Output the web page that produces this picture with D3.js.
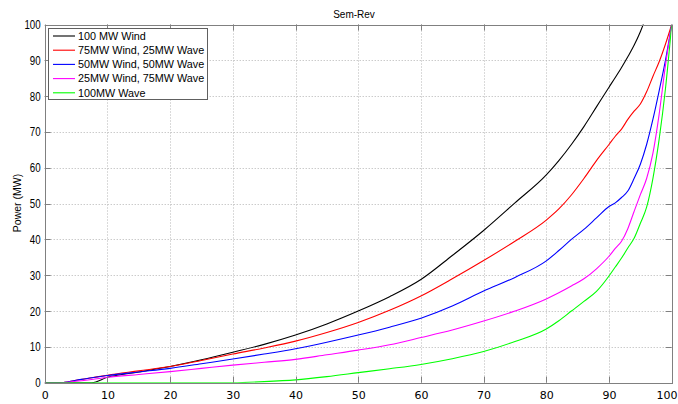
<!DOCTYPE html>
<html>
<head>
<meta charset="utf-8">
<script src="https://cdn.jsdelivr.net/npm/d3@7"></script>
<style>
  html, body { margin: 0; padding: 0; background: #fff; }
  svg { display: block; }
</style>
</head>
<body>
<script>
// Data //////////////////////////////////////////////////////////////////////

const percent = [0, 2.5, 5, 7.5, 10, 15, 20, 25, 30, 35, 40, 45, 50, 55, 60, 65, 70,
  75, 80, 82, 84, 86, 88, 90, 91, 92, 93, 94, 95, 96, 97, 98, 99, 100];

const wind100 = [0, 0, 0, 0, 1.5, 3.0, 4.5, 6.4, 8.5, 10.7, 13.3, 16.4, 20.0, 24.0, 28.8,
  35.5, 42.5, 50.2, 58.0, 62.0, 66.5, 71.5, 77.0, 82.5, 85.2, 88.0, 91.0, 94.2, 98.0, 102.5,
  null, null, null, null];
const wind75wave25 = [0, 0, 0.7, 1.4, 2.1, 3.3, 4.5, 6.2, 8.0, 9.7, 11.6, 14.0, 16.8, 20.2,
  24.2, 29.0, 34.1, 39.5, 45.4, 48.5, 52.4, 57.0, 62.0, 66.5, 68.8, 70.8, 73.5, 75.8, 77.8,
  81.2, 85.5, 89.6, 94.5, 100];
const wind50wave50 = [0, 0, 0.7, 1.4, 2.0, 3.0, 4.0, 5.3, 6.6, 8.0, 9.5, 11.3, 13.3, 15.5,
  18.0, 21.4, 25.6, 29.4, 34.0, 36.9, 40.0, 42.8, 46.0, 49.2, 50.2, 51.7, 53.5, 57.0, 61.0,
  66.5, 73.5, 81.5, 90.0, 100];
const wind25wave75 = [0, 0, 0.4, 0.9, 1.5, 2.3, 3.1, 4.0, 4.9, 5.7, 6.5, 7.8, 9.1, 10.6,
  12.6, 14.7, 17.2, 20.0, 23.4, 25.1, 27.0, 29.0, 31.8, 35.3, 37.5, 39.5, 43.0, 47.8, 52.5,
  57.0, 64.0, 75.0, 88.5, 100];
const wave100 = [0, 0, 0, 0, 0, 0, 0, 0, 0, 0.3, 0.8, 1.7, 2.8, 3.9, 5.1, 6.7, 8.7, 11.5,
  15.0, 17.3, 20.0, 22.7, 25.5, 29.8, 32.3, 34.8, 37.6, 40.3, 44.5, 49.0, 57.0, 68.0, 82.0, 100];

const seriesNames = ["100 MW Wind", "75MW Wind, 25MW Wave", "50MW Wind, 50MW Wave",
  "25MW Wind, 75MW Wave", "100MW Wave"];
const seriesColors = ["#000000", "#ff0000", "#0000ff", "#ff00ff", "#00ff00"];
const seriesValues = [wind100, wind75wave25, wind50wave50, wind25wave75, wave100];

const xTicks = [0, 10, 20, 30, 40, 50, 60, 70, 80, 90, 100];
const yTicks = [0, 10, 20, 30, 40, 50, 60, 70, 80, 90, 100];

// Layout ////////////////////////////////////////////////////////////////////

const width = 678;
const height = 404;
const plot = { left: 44.7, right: 671.7, top: 24.5, bottom: 382.7 };
const frameColor = "#808080";
const gridColor = "#b4b4b4";

const svg = d3
  .select("body")
  .append("svg")
  .attr("width", width)
  .attr("height", height);

svg.append("rect").attr("width", width).attr("height", height).attr("fill", "#fff");

const xScale = d3.scaleLinear().domain([0, 100]).range([plot.left, plot.right]);
const yScale = d3.scaleLinear().domain([0, 100]).range([plot.bottom, plot.top]);

drawGrid(svg.append("g"));
drawLines(svg.append("g"));
drawFrame(svg.append("g"));
drawAxes(svg);
drawTitles(svg);
drawLegend(svg.append("g"));

// Grid //////////////////////////////////////////////////////////////////////

function drawGrid(root) {
  root
    .selectAll("line.gx")
    .data(xTicks.slice(1, -1))
    .join("line")
    .attr("x1", (d) => Math.round(xScale(d)) + 0.5)
    .attr("x2", (d) => Math.round(xScale(d)) + 0.5)
    .attr("y1", plot.top)
    .attr("y2", plot.bottom)
    .attr("stroke", gridColor)
    .attr("stroke-dasharray", "1,2");

  root
    .selectAll("line.gy")
    .data(yTicks.slice(1, -1))
    .join("line")
    .attr("y1", (d) => Math.round(yScale(d)) + 0.5)
    .attr("y2", (d) => Math.round(yScale(d)) + 0.5)
    .attr("x1", plot.left)
    .attr("x2", plot.right)
    .attr("stroke", gridColor)
    .attr("stroke-dasharray", "1,2");
}

// Lines /////////////////////////////////////////////////////////////////////

function drawLines(root) {
  root
    .append("clipPath")
    .attr("id", "plot-clip")
    .append("rect")
    .attr("x", plot.left)
    .attr("y", plot.top)
    .attr("width", plot.right - plot.left)
    .attr("height", plot.bottom - plot.top);

  const line = d3
    .line()
    .defined((d) => d[1] !== null)
    .curve(d3.curveMonotoneX)
    .x((d) => xScale(d[0]))
    .y((d) => yScale(d[1]));

  root
    .attr("clip-path", "url(#plot-clip)")
    .selectAll("path")
    .data(seriesValues)
    .join("path")
    .attr("d", (values) => line(percent.map((p, i) => [p, values[i]])))
    .attr("fill", "none")
    .attr("stroke", (_, i) => seriesColors[i])
    .attr("stroke-width", 1.1);
}

// Frame and axes ////////////////////////////////////////////////////////////

function drawFrame(root) {
  root
    .append("rect")
    .attr("x", Math.round(plot.left) + 0.5)
    .attr("y", Math.round(plot.top) + 0.5)
    .attr("width", Math.round(plot.right) - Math.round(plot.left))
    .attr("height", Math.round(plot.bottom) - Math.round(plot.top))
    .attr("fill", "none")
    .attr("stroke", frameColor);

  const tickLen = 6;
  // inward ticks on all four sides
  [plot.bottom, plot.top].forEach((y0, side) => {
    root
      .selectAll(null)
      .data(xTicks)
      .join("line")
      .attr("x1", (d) => Math.round(xScale(d)) + 0.5)
      .attr("x2", (d) => Math.round(xScale(d)) + 0.5)
      .attr("y1", y0)
      .attr("y2", side === 0 ? y0 - tickLen : y0 + tickLen)
      .attr("stroke", frameColor);
  });
  [plot.left, plot.right].forEach((x0, side) => {
    root
      .selectAll(null)
      .data(yTicks)
      .join("line")
      .attr("y1", (d) => Math.round(yScale(d)) + 0.5)
      .attr("y2", (d) => Math.round(yScale(d)) + 0.5)
      .attr("x1", x0)
      .attr("x2", side === 0 ? x0 + tickLen : x0 - tickLen)
      .attr("stroke", frameColor);
  });
}

function drawAxes(root) {
  const xAxis = d3.axisBottom(xScale).tickValues(xTicks).tickSize(0).tickPadding(9);
  const gx = root
    .append("g")
    .attr("transform", `translate(0, ${plot.bottom})`)
    .call(xAxis);
  gx.select(".domain").remove();
  gx.selectAll("text")
    .attr("font-family", "DejaVu Sans, sans-serif")
    .attr("font-size", 11)
    .attr("fill", "#000");
  // keep the last label inside the page
  gx.selectAll("text")
    .filter((d) => d === 100)
    .attr("text-anchor", "end")
    .attr("x", width - plot.right - 1);

  const yAxis = d3.axisLeft(yScale).tickValues(yTicks).tickSize(0).tickPadding(0);
  const gy = root
    .append("g")
    .attr("transform", `translate(${plot.left - 4}, 0)`)
    .call(yAxis);
  gy.select(".domain").remove();
  gy.selectAll("text")
    .attr("x", 0)
    .attr("transform", "scale(0.78, 1)")
    .attr("font-family", "Liberation Sans, Arial, sans-serif")
    .attr("font-size", 12.5)
    .attr("fill", "#000");
}

// Titles ////////////////////////////////////////////////////////////////////

function drawTitles(root) {
  root
    .append("text")
    .text("Sem-Rev")
    .attr("x", 354)
    .attr("y", 18)
    .attr("text-anchor", "middle")
    .attr("font-family", "Liberation Sans, Arial, sans-serif")
    .attr("font-size", 10);

  root
    .append("text")
    .text("Power (MW)")
    .attr("transform", "translate(21, 203) rotate(-90)")
    .attr("text-anchor", "middle")
    .attr("font-family", "Liberation Sans, Arial, sans-serif")
    .attr("font-size", 10.5);
}

// Legend ////////////////////////////////////////////////////////////////////

function drawLegend(root) {
  root
    .append("rect")
    .attr("x", 48.5)
    .attr("y", 28.5)
    .attr("width", 159)
    .attr("height", 71)
    .attr("fill", "#fff")
    .attr("stroke", "#606060");

  const rows = root
    .selectAll("g")
    .data(seriesNames)
    .join("g")
    .attr("transform", (_, i) => `translate(0, ${36 + i * 14.2})`);

  rows
    .append("line")
    .attr("x1", 53)
    .attr("x2", 75)
    .attr("stroke", (_, i) => seriesColors[i])
    .attr("stroke-width", 1.1);

  rows
    .append("text")
    .text((d) => d)
    .attr("x", 78)
    .attr("dy", "0.35em")
    .attr("font-family", "Liberation Sans, Arial, sans-serif")
    .attr("font-size", 10.8)
    .attr("fill", "#000");
}
</script>
</body>
</html>
